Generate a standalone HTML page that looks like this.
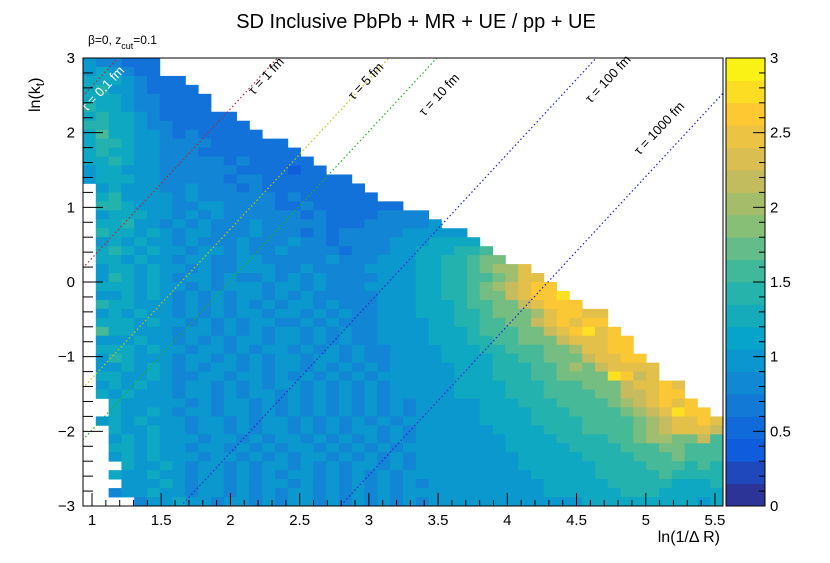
<!DOCTYPE html>
<html><head><meta charset="utf-8"><style>
html,body{margin:0;padding:0;background:#fff;overflow:hidden;width:830px;height:563px;}
svg{display:block;}
svg text{font-family:"Liberation Sans",sans-serif;}
</style></head><body>
<svg id="chart" width="830" height="563" xmlns="http://www.w3.org/2000/svg">
<rect width="830" height="563" fill="#fff"/>
<defs><clipPath id="frameClip"><rect x="83" y="58" width="640" height="448"/></clipPath></defs>
<text x="416" y="28" font-size="20" text-anchor="middle">SD Inclusive PbPb + MR + UE / pp + UE</text>
<text x="88" y="44" font-size="12">β=0, z<tspan font-size="9" dy="5">cut</tspan><tspan dy="-5">=0.1</tspan></text>
<text transform="translate(40,112) rotate(-90)" font-size="16">ln(k<tspan font-size="12" dy="4">t</tspan><tspan dy="-4">)</tspan></text>
<text x="720" y="542" font-size="16" text-anchor="end">ln(1/Δ R)</text>
<g id="cells"></g>
<g id="lines" clip-path="url(#frameClip)"></g>
<g id="labels"></g>
<rect x="83" y="58" width="640" height="448" fill="none" stroke="#000" stroke-width="1"/>
<g id="axes"></g>
<g id="cbar"></g>
</svg>
<script>
// ---- data ----
const xMin = 0.935, xMax = 5.558, nX = 50;
const yMin = -3, yMax = 3, nY = 50;
const xTicks = [1,1.5,2,2.5,3,3.5,4,4.5,5,5.5];
const xTickLabels = ["1","1.5","2","2.5","3","3.5","4","4.5","5","5.5"];
const yTicks = [-3,-2,-1,0,1,2,3];
const yTickLabels = ["\u22123","\u22122","\u22121","0","1","2","3"];
const zTicks = [0,0.5,1,1.5,2,2.5,3];
const zTickLabels = ["0","0.5","1","1.5","2","2.5","3"];
const tauValues = [0.1,1,5,10,100,1000];
const tauLabels = ["τ = 0.1 fm","τ = 1 fm","τ = 5 fm","τ = 10 fm","τ = 100 fm","τ = 1000 fm"];
// first filled column per row (row 0 = top)
const rowStart = [0,0,0,0,0,0,0,0,0,0,0,0,0,0,1,1,1,1,1,1,1,1,1,1,1,1,1,1,1,1,1,1,1,1,1,1,1,1,2,2,1,2,2,2,2,3,2,3,2,4];
// values encoded per cell: code 0-f, value = code*0.2
const rowValues = [
"544333","565433","66654333","675543333","6665443333","7665443333","676654333333","7766544333333",
"68665543433333","6776554444333333","67665544433333333","667655444443433333","5665554444443333233",
"566655444443443333333","565554454443433333333","6755554544444434333333","776555445544443343333333",
"56665545454444443433334444","667554545444544444333444445","76656545544454443434444455555",
"565655454445444544344445556666","6765655455454454444344455666778","66565545544554444454445556677899",
"5665655454455544544445555667789aac","57656545545445454544445556677889acc","6665655454555455454445555667789abcdd",
"55656545454554545444445556677899bcdde","766555454545454554544455566678899bcddd","5656554545455455454544555666778999acddcc",
"6665655454545544545444555566778899bcdcdd","86655545545454554545445555666788899bcdecd","555655454545545545454455556667788999bcccdd",
"6665655455454554545454455556667788899accdd","57655545545454554554544555566667788999bccdd","5565654545545455454545455555666777889a9bcccc",
"6655654455455454545454555555666777889999edbc","56565545545454554545454555556666777888999bccdc","65655545545455454545454555556666777888899bbcdd",
"6555554545545454545454545555566677788889abcdcd","65565455455454545454545455555666677788889abcedd","5656555455454554545454545555556666777788889abccdc",
"655655455454554545455454555555666677788889abcccb","565655545545455454545454555555566667777889aa99b8","665655455454545545454545555555566666777788899888",
"565655545545454554545454555555556666677778889888","65565455454554545455454555555556666667777888787","655655455454545545454545555555555666667777787777",
"55565455454554545454545455555555566666777776667","455655455454545545454545555555555566666677766666","4556554554545545454545455555555555566666666656"
];
// ---- scales ----
const X0=83, X1=723, Y0=58, Y1=506;
const px = x => X0 + (x - xMin) / (xMax - xMin) * (X1 - X0);
const py = y => Y1 - (y - yMin) / (yMax - yMin) * (Y1 - Y0);
const stops=[[0,.2082,.1664,.5293],[.125,.0592,.3599,.8684],[.25,.0780,.5041,.8385],[.375,.0232,.6419,.7914],[.5,.1802,.7178,.6425],[.625,.5301,.7492,.4662],[.75,.8186,.7328,.3499],[.875,.9956,.7862,.1968],[1,.9764,.9832,.0539]];
function color(v){let t=Math.max(0,Math.min(1,v/3));for(let i=1;i<stops.length;i++){if(t<=stops[i][0]){const a=stops[i-1],b=stops[i],f=(t-a[0])/(b[0]-a[0]);return `rgb(${[1,2,3].map(k=>Math.round(255*(a[k]+(b[k]-a[k])*f))).join(',')})`;}}return 'rgb(249,251,14)';}
const NS="http://www.w3.org/2000/svg";
function mk(tag,attrs,parent){const e=document.createElementNS(NS,tag);for(const k in attrs)e.setAttribute(k,attrs[k]);parent.appendChild(e);return e;}
const bw=(xMax-xMin)/nX, bh=(yMax-yMin)/nY;
// ---- cells ----
const cells=document.getElementById('cells');
rowValues.forEach((s,r)=>{
  for(let i=0;i<s.length;i++){
    const c=rowStart[r]+i; const v=parseInt(s[i],16)*0.2;
    const xa=xMin+c*bw, yt=yMax-r*bh;
    const e=mk('rect',{x:px(xa),y:py(yt),width:px(xa+bw)-px(xa)+0.4,height:py(yt-bh)-py(yt)+0.4,fill:color(v)},cells);
    
    
  }
});
// ---- tau lines: ln kt = 2x - 1.68 - ln(tau) ----
const lineColors=["#b0283a","#b0283a","#c8c800","#20b020","#2020d0","#2020d0"];
const lines=document.getElementById('lines'), labels=document.getElementById('labels');
const labelPos=[[1.1,2.55],[2.28,2.72],[3.0,2.65],[3.53,2.47],[4.75,2.68],[5.12,2.02]];
tauValues.forEach((t,i)=>{
  const c=-1.68-Math.log(t);
  const l=mk('line',{x1:px(0.5),y1:py(2*0.5+c),x2:px(6),y2:py(2*6+c),stroke:lineColors[i],'stroke-width':1.2,'stroke-dasharray':'1.5,2.5'},lines);
  
  
  const lx=px(labelPos[i][0]), ly=py(labelPos[i][1]);
  const tx=mk('text',{x:lx,y:ly,'font-size':13,'text-anchor':'middle',fill:i==0?'#fff':'#000',transform:`rotate(-47 ${lx} ${ly})`},labels);
  tx.textContent=tauLabels[i];
  
  
});
// ---- axes ----
const axes=document.getElementById('axes');
for(let k=0;k<=46;k++){const x=Math.round((1+k*0.1)*10)/10; if(x>5.55)break; const major=Math.abs(x*2-Math.round(x*2))<1e-6;
  const t=mk('line',{x1:px(x),y1:Y1,x2:px(x),y2:Y1-(major?13:6),stroke:'#000'},axes);
   }
xTicks.forEach((x,i)=>{const t=mk('text',{x:px(x),y:Y1+19,'font-size':15,'text-anchor':'middle'},axes);t.textContent=xTickLabels[i];
   });
for(let k=0;k<=30;k++){const y=-3+k*0.2; const major=k%5==0;
  const t=mk('line',{x1:X0,y1:py(y),x2:X0+(major?20:10),y2:py(y),stroke:'#000'},axes);
   }
yTicks.forEach((y,i)=>{const t=mk('text',{x:X0-8,y:py(y)+5,'font-size':15,'text-anchor':'end'},axes);t.textContent=yTickLabels[i];
   });
// ---- color bar ----
const cb=document.getElementById('cbar'); const CX0=726, CX1=765;
const cz = z => Y1 - z/3*(Y1-Y0);
for(let k=0;k<20;k++){const z0=k*0.15; const r=mk('rect',{x:CX0,y:cz(z0+0.15),width:CX1-CX0,height:cz(z0)-cz(z0+0.15)+0.4,fill:color(z0+0.075)},cb);
   }
const fr=mk('rect',{x:CX0,y:Y0,width:CX1-CX0,height:Y1-Y0,fill:'none',stroke:'#000'},cb);
 
for(let k=0;k<=30;k++){const z=k*0.1;const major=k%5==0;
  const t=mk('line',{x1:CX1,y1:cz(z),x2:CX1-(major?12:6),y2:cz(z),stroke:'#000'},cb);
   }
zTicks.forEach((z,i)=>{const t=mk('text',{x:CX1+5,y:cz(z)+5,'font-size':15},cb);t.textContent=zTickLabels[i];
   });
</script>
</body></html>
